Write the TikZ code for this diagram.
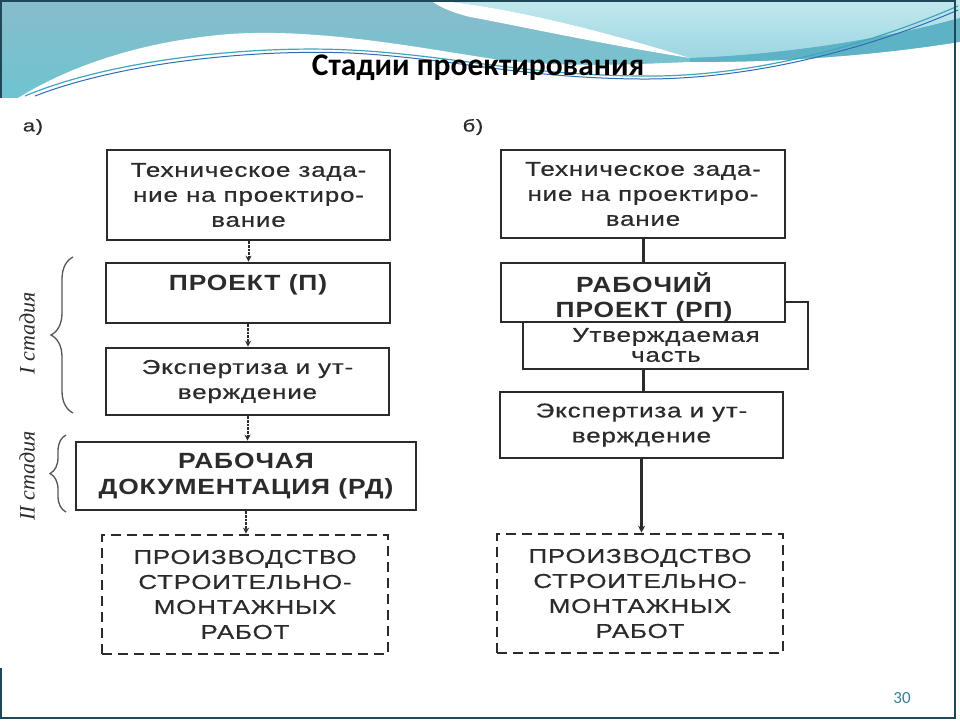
\documentclass[tikz,border=0pt]{standalone}
\usepackage{fontspec}
\setmainfont{Liberation Sans}
\newfontfamily\titlefont{Carlito}
\newfontfamily\scanfont{Liberation Sans}[FakeStretch=1.3,LetterSpace=4,FakeBold=0.5]
\newfontfamily\scanbold{Liberation Sans}[FakeStretch=1.2,LetterSpace=4]
\newfontfamily\stagefont{Liberation Serif}
\usetikzlibrary{decorations.pathreplacing,arrows.meta}
\definecolor{ink}{HTML}{2B2B2B}
\definecolor{hdrTop}{HTML}{88BCCC}
\definecolor{hdrBot}{HTML}{6EC4CF}
\definecolor{lightTop}{HTML}{C2E8EE}
\definecolor{lightBot}{HTML}{9DD6E1}
\definecolor{tealBand}{HTML}{5EB2C6}
\definecolor{lineTeal}{HTML}{3FA7BB}
\definecolor{lineBlue}{HTML}{2F6DB3}
\definecolor{frameCol}{HTML}{1E4857}
\definecolor{numCol}{HTML}{3C7F97}
\tikzset{
  box/.style={draw=ink, line width=2.6pt, fill=white, inner sep=0pt, align=center,
    text=ink, font=\scanfont\fontsize{20}{25}\selectfont},
  bbox/.style={box, font=\scanbold\bfseries\fontsize{22}{26}\selectfont},
  dbox/.style={box, dash pattern=on 10pt off 6pt},
  txt/.style={inner sep=0pt, align=center, text=ink, font=\scanfont\fontsize{20}{20}\selectfont},
  btxt/.style={txt, font=\scanbold\bfseries\fontsize{22}{25}\selectfont},
  conL/.style={draw=ink, line width=2pt, dash pattern=on 2.5pt off 1.2pt, -{Stealth[length=6pt,width=6pt]}},
  conR/.style={draw=ink, line width=3pt},
  conRa/.style={conR, -{Stealth[length=7pt,width=7pt]}},
  stage/.style={rotate=90, inner sep=0pt, text=ink, font=\stagefont\itshape\fontsize{22}{24}\selectfont},
  brc/.style={draw=ink!80, line width=1.3pt, decorate},
  lbl/.style={inner sep=0pt, text=ink, font=\scanfont\fontsize{17}{19}\selectfont}
}
\begin{document}
\begin{tikzpicture}[x=1pt,y=-1pt]
\useasboundingbox (0,0) rectangle (960,720);
\fill[white] (0,0) rectangle (960,720);
% header band
\shade[top color=hdrTop, bottom color=hdrBot] (0,0) rectangle (960,98);
\shade[top color=lightTop, bottom color=lightBot]
   (430,0) .. controls (500,5) and (600,30) .. (690,58)
   .. controls (780,55) and (880,40) .. (960,18) -- (960,0) -- cycle;
\fill[tealBand] (690,58) .. controls (780,55) and (880,40) .. (960,18)
   -- (960,42) .. controls (880,55) and (780,63) .. (690,62) -- cycle;
% white swoosh at top
\fill[white] (430,0) .. controls (500,5) and (600,30) .. (690,58)
   .. controls (600,44) and (510,24) .. (470,17)
   .. controls (450,12) and (438,6) .. (430,0) -- cycle;
% lower white region
\fill[white] (0,98) -- (18,98) .. controls (60,72) and (130,42) .. (230,34)
   .. controls (320,28) and (420,48) .. (500,60)
   .. controls (570,68) and (640,64) .. (690,62)
   .. controls (780,63) and (880,55) .. (960,42) -- (960,100) -- (0,100) -- cycle;
% thin lines
\draw[lineTeal, line width=1.2pt] (25,96) .. controls (110,60) and (250,45) .. (350,50)
   .. controls (450,55) and (520,75) .. (640,76) .. controls (760,78) and (880,40) .. (958,6);
\draw[lineBlue, line width=1pt] (35,96) .. controls (120,63) and (250,49) .. (350,53)
   .. controls (450,58) and (520,78) .. (640,79) .. controls (760,80) and (880,44) .. (958,10);
\fill[white] (0,98) rectangle (953,668);
% frame
\draw[frameCol, line width=1.6pt] (1,98) -- (1,1) -- (955,1) -- (955,718) -- (1,718) -- (1,668);
% title
\node[anchor=base, inner sep=0pt, font=\titlefont\bfseries\fontsize{31.5}{34}\selectfont] (title) at (478,75) {Стадии проектирования};
% labels
\node[lbl] (la) at (33,127) {а)};
\node[lbl] (lb) at (473,127) {б)};
% left column
\node[box, minimum width=283pt, minimum height=90pt] (a1) at (248.5,195) {Техническое зада-\\ние на проектиро-\\вание};
\node[box, minimum width=284pt, minimum height=60pt] (a2) at (248,293) {};
\node[btxt] (a2t) at (248,285) {ПРОЕКТ (П)};
\node[box, minimum width=283pt, minimum height=67pt] (a3) at (247.5,381.5) {Экспертиза и ут-\\верждение};
\node[bbox, minimum width=340pt, minimum height=68pt] (a4) at (246,476) {РАБОЧАЯ\\ДОКУМЕНТАЦИЯ (РД)};
\node[dbox, minimum width=286pt, minimum height=119pt] (a5) at (245,594.5) {ПРОИЗВОДСТВО\\СТРОИТЕЛЬНО-\\МОНТАЖНЫХ\\РАБОТ};
\draw[conL] (a1.south) -- (a1.south |- a2.north);
\draw[conL] (a2.south) -- (a2.south |- a3.north);
\draw[conL] (a3.south) -- (a3.south |- a4.north);
\draw[conL] (a4.south) -- (a4.south |- a5.north);
% braces and stage labels
\draw[brc, decoration={brace, amplitude=22pt}] (73,413) -- (73,257);
\draw[brc, decoration={brace, amplitude=16pt}] (66,512) -- (66,435);
\node[stage] (s1) at (27,333) {I стадия};
\node[stage] (s2) at (27,476) {II стадия};
% right column
\node[box, minimum width=285pt, minimum height=67pt] (b3) at (665.5,335.5) {};
\node[txt] (b3t) at (666,345) {Утверждаемая\\часть};
\node[box, minimum width=284pt, minimum height=88pt] (b1) at (643,194) {Техническое зада-\\ние на проектиро-\\вание};
\node[box, minimum width=284pt, minimum height=59pt] (b2) at (643,292.5) {};
\node[btxt] (b2t) at (644,297.5) {РАБОЧИЙ\\ПРОЕКТ (РП)};
\node[box, minimum width=283pt, minimum height=66pt] (b4) at (641.5,425) {Экспертиза и ут-\\верждение};
\node[dbox, minimum width=286pt, minimum height=119pt] (b5) at (640,593.5) {ПРОИЗВОДСТВО\\СТРОИТЕЛЬНО-\\МОНТАЖНЫХ\\РАБОТ};
\draw[conR] (b1.south) -- (b1.south |- b2.north);
\draw[conR] (b3.south -| b1.south) -- (b4.north -| b1.south);
\draw[conRa] (b4.south) -- (b4.south |- b5.north);
% page number
\node[anchor=base, inner sep=0pt, text=numCol, font=\titlefont\fontsize{17}{19}\selectfont] (pg) at (902,703) {30};
\end{tikzpicture}
\end{document}
